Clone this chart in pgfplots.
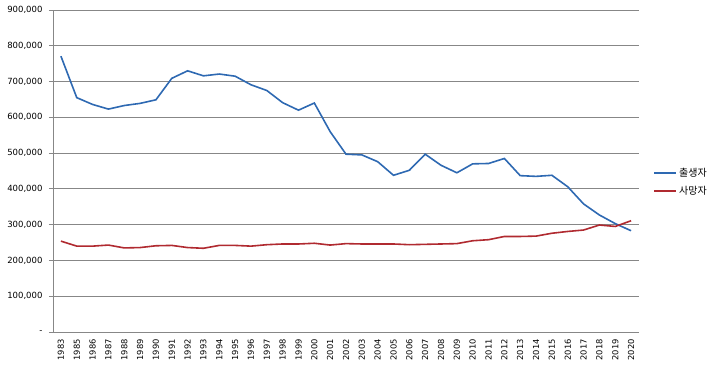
\documentclass[border=0pt]{standalone}
\usepackage{pgfplots}
\pgfplotsset{compat=1.18}
\usepackage{fontspec}
\setmainfont{DejaVu Sans}
\newfontfamily\cjk{Noto Sans CJK KR}
\definecolor{birthblue}{RGB}{46,105,178}
\definecolor{deathred}{RGB}{176,42,48}
\definecolor{gridgray}{RGB}{135,135,135}
\begin{document}
\begin{tikzpicture}[x=1pt,y=1pt]
\path[use as bounding box] (-53,-34) rectangle (667,332);
\begin{axis}[
  at={(0,0)}, anchor=south west,
  scale only axis, width=586pt, height=322pt,
  xmin=-0.5, xmax=36.5, ymin=0, ymax=900000,
  scaled y ticks=false,
  axis x line*=bottom, axis y line*=left,
  axis line style={gridgray, line width=0.8pt},
  ytick={0,100000,...,900000},
  yticklabels={-,{100,000},{200,000},{300,000},{400,000},{500,000},{600,000},{700,000},{800,000},{900,000}},
  ymajorgrids, grid style={gridgray, line width=0.8pt},
  xtick={0,...,36},
  xticklabels={1983,1985,1986,1987,1988,1989,1990,1991,1992,1993,1994,1995,1996,1997,1998,1999,2000,2001,2002,2003,2004,2005,2006,2007,2008,2009,2010,2011,2012,2013,2014,2015,2016,2017,2018,2019,2020},
  x tick label style={rotate=90, anchor=east, font=\fontsize{8.3}{9}\selectfont, inner sep=1pt},
  y tick label style={font=\fontsize{8.5}{9}\selectfont, xshift=-3pt},
  xtick style={draw=none},
  extra x ticks={-0.5,0.5,...,36.5},
  extra x tick labels={},
  extra x tick style={tick style={draw=gridgray, line width=0.8pt}, major tick length=4pt, tick align=outside, xticklabel=\empty},
  ytick style={gridgray, line width=0.8pt},
  major tick length=4pt, tick align=outside,
  xticklabel shift=2pt,
  clip=false,
  legend style={draw=none, fill=none, at={(1,0.466)}, anchor=west, xshift=14pt, font=\cjk\fontsize{10}{11}\selectfont, row sep=4pt, inner sep=0pt, cells={anchor=west}},
  legend image code/.code={\draw[#1, line width=2pt] (0pt,0pt) -- (22pt,0pt);},
]
\addplot[birthblue, line width=1.6pt] coordinates {
(0,771000)(1,655000)(2,636000)(3,623000)(4,633000)(5,639000)(6,649000)(7,709000)(8,730000)(9,716000)(10,721000)(11,715000)(12,691000)(13,675000)(14,641000)(15,620000)(16,640000)(17,560000)(18,497000)(19,495000)(20,476000)(21,438000)(22,452000)(23,497000)(24,466000)(25,445000)(26,470000)(27,471000)(28,485000)(29,437000)(30,435000)(31,438000)(32,406000)(33,358000)(34,327000)(35,303000)(36,283000)
};
\addlegendentry{출생자}
\addplot[deathred, line width=1.6pt] coordinates {
(0,254000)(1,240000)(2,240000)(3,243000)(4,235000)(5,236000)(6,241000)(7,242000)(8,236000)(9,234000)(10,242000)(11,242000)(12,240000)(13,244000)(14,246000)(15,246000)(16,248000)(17,243000)(18,247000)(19,246000)(20,246000)(21,246000)(22,244000)(23,245000)(24,246000)(25,247000)(26,255000)(27,258000)(28,267000)(29,267000)(30,268000)(31,276000)(32,281000)(33,285000)(34,299000)(35,295000)(36,311000)
};
\addlegendentry{사망자}
\end{axis}
\end{tikzpicture}
\end{document}
